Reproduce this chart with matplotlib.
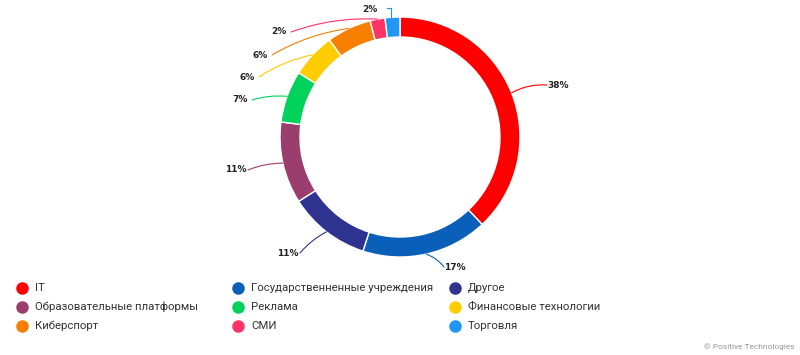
import numpy as np
import matplotlib.pyplot as plt

plt.rcParams['font.family'] = ['Roboto', 'DejaVu Sans']

categories = ['IT', 'Государственненные учреждения', 'Другое',
              'Образовательные платформы', 'Реклама', 'Финансовые технологии',
              'Киберспорт', 'СМИ', 'Торговля']
shares = [38, 17, 11, 11, 7, 6, 6, 2, 2]
colors = ['#ff0000', '#0a60b8', '#2f3390', '#9b3d6d', '#00d25c',
          '#ffcc00', '#f77f00', '#ff3366', '#2196f3']

# label text centres in pixels (x, y from top), layout only
label_pos = [(558, 85), (455, 267), (288, 253), (236, 170), (240, 100),
             (247, 77), (260, 55), (279, 32), (370, 10)]

W, H = 800, 355
cx, cy, R = 400, 137, 120

fig = plt.figure(figsize=(W / 100, H / 100), dpi=100)
ax = fig.add_axes([0, 0, 1, 1])

wedges, _ = ax.pie(shares, colors=colors, startangle=90, counterclock=False,
                   center=(cx, H - cy), radius=R,
                   wedgeprops=dict(width=20, edgecolor='white', linewidth=1))
ax.set_xlim(0, W)
ax.set_ylim(0, H)
ax.set_aspect('equal')
ax.axis('off')

for k, (w, lab, (lx, ly), c) in enumerate(zip(wedges, shares, label_pos, colors)):
    mid = np.deg2rad((w.theta1 + w.theta2) / 2)
    ex = cx + R * np.cos(mid)
    ey = H - cy + R * np.sin(mid)
    if k == len(shares) - 1:
        # small top slice: short hook up and left
        ax.plot([ex - 1, ex - 1, ex - 5], [ey, H - 8, H - 8], color=c, lw=0.8)
    else:
        right = lx > cx
        tx = lx - 11 if right else lx + 12
        rad = 0.15 if right else -0.1
        ax.annotate('', xy=(ex, ey), xytext=(tx, H - ly),
                    arrowprops=dict(arrowstyle='-', color=c, lw=0.8,
                                    shrinkA=0, shrinkB=0,
                                    connectionstyle=f'arc3,rad={rad}'))
    ax.text(lx, H - ly, f'{lab}%', fontsize=6.5, fontweight='bold',
            family='DejaVu Sans', color='#222222', ha='center', va='center')

# legend
col_x = [22, 238, 455]
row_y = [288, 307, 326]
for i, (name, c) in enumerate(zip(categories, colors)):
    x = col_x[i % 3]
    y = H - row_y[i // 3]
    ax.plot(x, y, 'o', color=c, markersize=8)
    ax.text(x + 13, y, name, fontsize=8.2, color='#333333', va='center', ha='left')

ax.text(795, H - 347, '© Positive Technologies', fontsize=6, color='#999999',
        ha='right', va='center')

fig.savefig('out.png', dpi=100)
